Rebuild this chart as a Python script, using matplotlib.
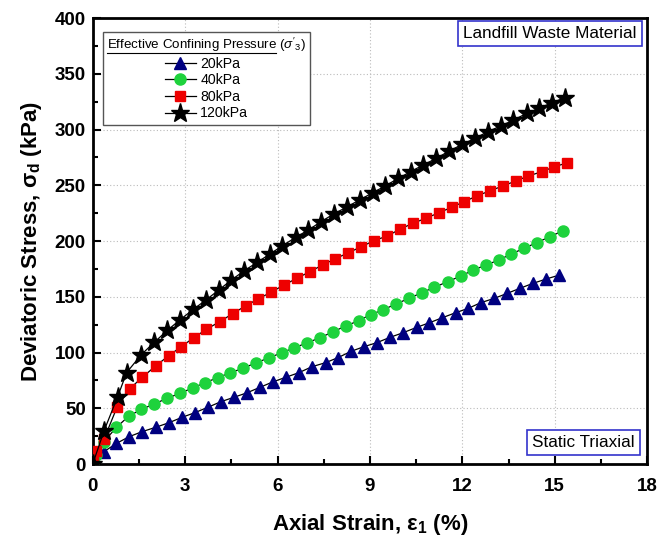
import matplotlib
matplotlib.use("Agg")
import matplotlib.pyplot as plt
from matplotlib.ticker import MultipleLocator
from matplotlib.lines import Line2D

plt.rcParams["font.family"] = ["Liberation Sans", "DejaVu Sans"]
plt.rcParams["mathtext.fontset"] = "custom"
plt.rcParams["mathtext.rm"] = "Liberation Sans"
plt.rcParams["mathtext.it"] = "Liberation Sans:italic"
plt.rcParams["mathtext.bf"] = "Liberation Sans:bold"

# 20 kPa
strain_20 = [0, 0.36, 0.77, 1.18, 1.6, 2.04, 2.47, 2.9, 3.31, 3.74,
             4.16, 4.58, 5.01, 5.43, 5.86, 6.27, 6.69, 7.12, 7.56, 7.97,
             8.38, 8.8, 9.22, 9.65, 10.08, 10.52, 10.93, 11.35, 11.78, 12.19,
             12.6, 13.04, 13.46, 13.87, 14.3, 14.72, 15.15]
stress_20 = [0, 11, 18.5, 24.5, 29, 32.9, 37, 41.9, 46, 50.9,
             55.9, 59.8, 63.9, 68.8, 73.8, 77.8, 81.9, 87.3, 90.9, 95.5,
             101, 105.2, 108.8, 113.6, 117.8, 122.6, 126.7, 131.2, 135.7, 139.6,
             144.7, 148.6, 153.1, 157.6, 162.1, 165.9, 169.5]

# 40 kPa
strain_40 = [0, 0.1, 0.36, 0.77, 1.17, 1.58, 1.99, 2.41, 2.83, 3.24,
             3.65, 4.06, 4.47, 4.89, 5.31, 5.72, 6.13, 6.54, 6.96, 7.37,
             7.79, 8.21, 8.63, 9.02, 9.43, 9.84, 10.27, 10.68, 11.09, 11.52,
             11.95, 12.36, 12.77, 13.19, 13.58, 14.0, 14.41, 14.85, 15.26]
stress_40 = [0, 8, 20, 32.9, 43, 49, 53.8, 58.9, 63.4, 68.2,
             73, 77.5, 81.9, 86, 90.9, 95.2, 99.8, 104.2, 108.7, 113.2,
             118.4, 123.8, 128.5, 134, 138.3, 143.5, 148.6, 153.6, 158.5, 163.5,
             168.6, 174, 178.5, 183, 188.3, 193.4, 198.5, 203.9, 209.2]

# 80 kPa
strain_80 = [0, 0.12, 0.36, 0.79, 1.2, 1.61, 2.04, 2.46, 2.87, 3.28,
             3.69, 4.13, 4.54, 4.96, 5.37, 5.78, 6.21, 6.62, 7.05, 7.46,
             7.86, 8.3, 8.72, 9.13, 9.56, 9.97, 10.39, 10.82, 11.24, 11.65,
             12.06, 12.47, 12.9, 13.31, 13.73, 14.14, 14.58, 14.99, 15.41]
stress_80 = [2, 12, 22, 51, 67.5, 77.8, 87.9, 97, 105.2, 113.3,
             120.8, 127.8, 134.8, 141.8, 148, 154, 160.5, 166.5, 172.5, 178.5,
             183.9, 189.5, 194.9, 200.3, 204.5, 210.5, 215.9, 220.4, 225.4, 230.2,
             235.3, 240.4, 245.1, 249.3, 253.8, 258.3, 262.2, 266.6, 270.2]

# 120 kPa
strain_120 = [0, 0.37, 0.81, 1.1, 1.58, 2.0, 2.42, 2.84, 3.27, 3.67,
              4.09, 4.5, 4.92, 5.34, 5.75, 6.16, 6.59, 7.0, 7.41, 7.82,
              8.25, 8.67, 9.09, 9.49, 9.92, 10.32, 10.73, 11.16, 11.57, 12.0,
              12.41, 12.82, 13.24, 13.66, 14.09, 14.49, 14.9, 15.33]
stress_120 = [0, 30, 60.4, 82, 98.2, 109.2, 119.8, 129.5, 138.8, 147,
              156, 165, 173.4, 180.9, 188.3, 195.8, 203.3, 209.9, 217.3, 224.2,
              230.5, 237, 243.3, 249.3, 256.2, 262.2, 268.2, 274.2, 280.7, 286.7,
              292.1, 298, 303.1, 308.5, 314.5, 319, 324, 328.5]

fig = plt.figure(figsize=(6.72, 5.38), dpi=100)
ax = fig.add_axes([0.138, 0.1375, 0.825, 0.829])

ax.plot(strain_20, stress_20, color="black", lw=0.9, marker="^", ms=8,
        mfc="#000080", mec="#000080", label="20kPa", zorder=3)
ax.plot(strain_40, stress_40, color="black", lw=0.9, marker="o", ms=8,
        mfc="#1ed23c", mec="#1ed23c", label="40kPa", zorder=3)
ax.plot(strain_80, stress_80, color="black", lw=0.9, marker="s", ms=7,
        mfc="#ee0000", mec="#ee0000", label="80kPa", zorder=3)
ax.plot(strain_120, stress_120, color="black", lw=0.9, marker="*", ms=14,
        mfc="black", mec="black", label="120kPa", zorder=4)

ax.set_xlim(0, 18)
ax.set_ylim(0, 400)
ax.xaxis.set_major_locator(MultipleLocator(3))
ax.xaxis.set_minor_locator(MultipleLocator(1.5))
ax.yaxis.set_major_locator(MultipleLocator(50))
ax.yaxis.set_minor_locator(MultipleLocator(25))
ax.tick_params(which="both", direction="in", top=False, right=False)
ax.tick_params(which="major", length=6, width=1.5, labelsize=13.5)
ax.tick_params(axis="x", which="major", pad=10)
ax.tick_params(axis="y", which="major", pad=5)
ax.tick_params(which="minor", length=3.5, width=1.5)
for lbl in ax.get_xticklabels() + ax.get_yticklabels():
    lbl.set_fontweight("bold")
for sp in ax.spines.values():
    sp.set_linewidth(2)
ax.grid(True, which="major", ls=(0, (1, 2)), color="#bbbbbb", lw=0.8)
ax.set_axisbelow(True)

ax.set_xlabel(r"Axial Strain, $\mathregular{\varepsilon_1}$ (%)",
              fontsize=16, fontweight="bold", labelpad=12)
ax.set_ylabel(r"Deviatoric Stress, $\mathregular{\sigma_d}$ (kPa)",
              fontsize=16, fontweight="bold", labelpad=8)

leg = ax.legend(loc="upper left", bbox_to_anchor=(0.018, 0.969),
                borderaxespad=0,
                title=r"Effective Confining Pressure ($\it{\sigma'_3}$)",
                fontsize=10.2, title_fontsize=9.6, frameon=True, fancybox=False,
                edgecolor="#555555", framealpha=1, handlelength=2.2,
                handletextpad=0.3, labelspacing=0.18, borderpad=0.3)
leg.get_frame().set_linewidth(1.0)
leg._legend_box.align = "center"

ax.text(0.981, 0.982, "Landfill Waste Material", transform=ax.transAxes,
        ha="right", va="top", fontsize=12.3,
        bbox=dict(boxstyle="square,pad=0.3", fc="white", ec="#3333cc", lw=1.2))
ax.text(0.977, 0.031, "Static Triaxial", transform=ax.transAxes,
        ha="right", va="bottom", fontsize=12.3,
        bbox=dict(boxstyle="square,pad=0.3", fc="white", ec="#3333cc", lw=1.2))

# underline the legend title
fig.canvas.draw()
bb = leg.get_title().get_window_extent().transformed(fig.transFigure.inverted())
fig.add_artist(Line2D([bb.x0, bb.x1 - 0.045], [bb.y0 + 0.002, bb.y0 + 0.002],
                      transform=fig.transFigure, color="black", lw=0.8))

fig.savefig("out.png", dpi=100)
